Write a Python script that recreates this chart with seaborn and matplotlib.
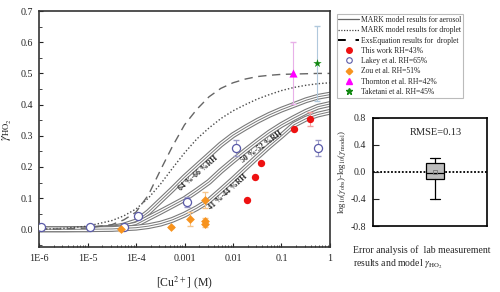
import numpy as np
import pandas as pd
import matplotlib
matplotlib.use("Agg")
import matplotlib.pyplot as plt
import matplotlib.patheffects as pe
from matplotlib.lines import Line2D
import seaborn as sns

sns.set_theme(style="ticks")
plt.rcParams['font.family'] = ['Liberation Serif', 'DejaVu Serif']
plt.rcParams['mathtext.fontset'] = 'stix'

# grille de concentration (quart de décade) pour les courbes de modèle
cu_grid = [1e-6, 3.2e-6, 1e-5, 3.2e-5, 5.6e-5, 1e-4, 1.8e-4, 3.2e-4, 5.6e-4, 1e-3, 1.8e-3,
           3.2e-3, 5.6e-3, 1e-2, 1.8e-2, 3.2e-2, 5.6e-2, 0.1, 0.18, 0.32, 0.56, 1.0]

exs_droplet = [0.000, 0.001, 0.004, 0.015, 0.030, 0.055, 0.110, 0.190, 0.265, 0.335, 0.385,
               0.425, 0.452, 0.470, 0.482, 0.490, 0.494, 0.497, 0.498, 0.499, 0.500, 0.500]
mark_droplet = [0.000, 0.003, 0.010, 0.028, 0.043, 0.065, 0.100, 0.145, 0.195, 0.245, 0.290,
                0.325, 0.355, 0.380, 0.400, 0.418, 0.432, 0.445, 0.455, 0.462, 0.467, 0.470]
mark_rh64 = [0.000, 0.000, 0.001, 0.005, 0.012, 0.025, 0.055, 0.092, 0.128, 0.167, 0.203,
             0.238, 0.272, 0.302, 0.326, 0.348, 0.367, 0.384, 0.399, 0.414, 0.425, 0.432]
mark_rh50 = [0.000, 0.000, 0.000, 0.003, 0.007, 0.015, 0.036, 0.056, 0.076, 0.097, 0.124,
             0.152, 0.187, 0.220, 0.252, 0.282, 0.310, 0.335, 0.357, 0.377, 0.393, 0.402]
mark_rh41 = [0.000, 0.000, 0.000, 0.001, 0.003, 0.005, 0.010, 0.018, 0.030, 0.047, 0.068,
             0.092, 0.125, 0.160, 0.197, 0.233, 0.267, 0.300, 0.335, 0.355, 0.368, 0.377]

# mesures
this_x = [0.019, 0.028, 0.037, 0.18, 0.38]
this_y = [0.093, 0.169, 0.213, 0.323, 0.354]
this_err = [0.0, 0.0, 0.0, 0.0, 0.022]

lakey_x = [1.1e-6, 1.1e-5, 5.6e-5, 1.1e-4, 1.1e-3, 0.0114, 0.57]
lakey_y = [0.008, 0.006, 0.007, 0.042, 0.087, 0.261, 0.260]
lakey_err = [0.004, 0.004, 0.004, 0.004, 0.017, 0.027, 0.025]

zou_x = [5.0e-5, 5.2e-4, 1.3e-3, 2.65e-3, 2.65e-3, 2.65e-3]
zou_y = [0.001, 0.007, 0.032, 0.093, 0.025, 0.018]
zou_err = [0.006, 0.004, 0.022, 0.026, 0.010, 0.010]

thornton_x = [0.17]
thornton_y = [0.502]
thornton_err = [0.10]

taketani_x = [0.53]
taketani_y = [0.532]
taketani_err = [0.12]

# statistiques de la boîte (log10 obs - log10 modèle)
box_stats = dict(whislo=-0.40, q1=-0.10, med=-0.01, q3=0.14, whishi=0.20, mean=0.0, fliers=[])
rmse_text = "RMSE=0.13"

curves = pd.DataFrame({'cu': cu_grid, 'exs': exs_droplet, 'drop': mark_droplet,
                       'rh64': mark_rh64, 'rh50': mark_rh50, 'rh41': mark_rh41})

fig = plt.figure(figsize=(5, 2.92), dpi=100)
ax = fig.add_axes([0.078, 0.154, 0.582, 0.808])

band_fx = [pe.Stroke(linewidth=4.2, foreground='#7a7a7a'),
           pe.Stroke(linewidth=2.6, foreground='white'), pe.Normal()]
for col in ['rh64', 'rh50', 'rh41']:
    sns.lineplot(data=curves, x='cu', y=col, ax=ax, color='#7a7a7a', lw=0.7,
                 estimator=None, sort=False, path_effects=band_fx)
sns.lineplot(data=curves, x='cu', y='drop', ax=ax, color='#4a4a4a', lw=1.0,
             linestyle=(0, (1, 1.5)), estimator=None, sort=False)
sns.lineplot(data=curves, x='cu', y='exs', ax=ax, color='#666666', lw=1.0,
             linestyle=(0, (6, 4)), estimator=None, sort=False)

# barres d'erreur
ax.errorbar(this_x, this_y, yerr=this_err, fmt='none', ecolor='#f2a0a0', elinewidth=0.8, capsize=2)
ax.errorbar(lakey_x, lakey_y, yerr=lakey_err, fmt='none', ecolor='#9b9bc8', elinewidth=0.8, capsize=2)
ax.errorbar(zou_x, zou_y, yerr=zou_err, fmt='none', ecolor='#f5c48a', elinewidth=0.8, capsize=2)
ax.errorbar(thornton_x, thornton_y, yerr=thornton_err, fmt='none', ecolor='#e8b0e8', elinewidth=0.8, capsize=2)
ax.errorbar(taketani_x, taketani_y, yerr=taketani_err, fmt='none', ecolor='#b0c8dc', elinewidth=0.8, capsize=2)

sns.scatterplot(x=this_x, y=this_y, ax=ax, marker='o', color='#ee1111', s=28, linewidth=0, zorder=5)
sns.scatterplot(x=lakey_x, y=lakey_y, ax=ax, marker='o', facecolor='white', edgecolor='#5a5aa8',
                s=34, linewidth=0.9, zorder=5)
sns.scatterplot(x=zou_x, y=zou_y, ax=ax, marker='D', color='#f7931e', s=20, linewidth=0, zorder=5)
sns.scatterplot(x=thornton_x, y=thornton_y, ax=ax, marker='^', color='#ff00ff', s=34, linewidth=0, zorder=5)
sns.scatterplot(x=taketani_x, y=taketani_y, ax=ax, marker='*', color='#118811', s=40, linewidth=0, zorder=5)

ax.text(1.9e-3, 0.180, "64 %-66 %RH", rotation=41, fontsize=5.6, fontweight='bold',
        ha='center', va='center', rotation_mode='anchor')
ax.text(0.039, 0.263, "50 %-52 %RH", rotation=36, fontsize=5.6, fontweight='bold',
        ha='center', va='center', rotation_mode='anchor')
ax.text(7.9e-3, 0.118, "41 %-44 %RH", rotation=42, fontsize=5.6, fontweight='bold',
        ha='center', va='center', rotation_mode='anchor')

ax.set_xscale('log')
ax.set_xlim(1e-6, 1)
ax.set_ylim(-0.057, 0.7)
ax.set_xticks([1e-6, 1e-5, 1e-4, 1e-3, 1e-2, 1e-1, 1])
ax.set_xticklabels(["1E-6", "1E-5", "1E-4", "0.001", "0.01", "0.1", "1"])
ax.set_yticks(np.arange(0, 0.71, 0.1))
ax.set_yticklabels([f"{v:.1f}" for v in np.arange(0, 0.71, 0.1)])
ax.set_yticks(np.arange(-0.05, 0.7, 0.1), minor=True)
ax.tick_params(axis='both', which='major', direction='in', length=3, width=0.8,
               labelsize=7.2, colors='#222222')
ax.tick_params(axis='x', which='major', pad=5)
ax.tick_params(axis='y', which='major', pad=4)
ax.tick_params(axis='both', which='minor', direction='in', length=1.8, width=0.6)
for sp in ax.spines.values():
    sp.set_linewidth(1.2)
    sp.set_color('#333333')
ax.set_xlabel("[Cu$^{2+}$] (M)", fontsize=8.5, labelpad=8)
ax.set_ylabel(r"$\gamma_{\mathrm{HO_2}}$", fontsize=9, labelpad=5)

handles = [
    Line2D([], [], color='#666666', lw=0.9),
    Line2D([], [], color='#444444', lw=0.9, linestyle=(0, (1, 1.2))),
    Line2D([], [], color='black', lw=1.4, linestyle=(0, (4, 5))),
    Line2D([], [], marker='o', color='#ee1111', linestyle='none', markersize=4),
    Line2D([], [], marker='o', markerfacecolor='none', markeredgecolor='#5a5aa8',
           linestyle='none', markersize=4, markeredgewidth=0.8),
    Line2D([], [], marker='D', color='#f7931e', linestyle='none', markersize=3.3),
    Line2D([], [], marker='^', color='#ff00ff', linestyle='none', markersize=4),
    Line2D([], [], marker='*', color='#118811', linestyle='none', markersize=4.5),
]
labels = ["MARK model results for aerosol", "MARK model results for droplet",
          "ExsEquation results for  droplet", "This work RH=43%", "Lakey et al. RH=65%",
          "Zou et al. RH=51%", "Thornton et al. RH=42%", "Taketani et al. RH=45%"]
leg = fig.legend(handles, labels, loc='upper left', bbox_to_anchor=(0.673, 0.952),
                 fontsize=5.5, frameon=True, fancybox=False, edgecolor='#aaaaaa',
                 handlelength=2.7, handletextpad=0.3, labelspacing=0.3, borderpad=0.25,
                 borderaxespad=0)
leg.get_frame().set_linewidth(0.8)

# encart : analyse d'erreur
ax2 = fig.add_axes([0.746, 0.226, 0.228, 0.370])
ax2.bxp([box_stats], positions=[0], widths=0.32, showmeans=True, patch_artist=True,
        capwidths=0.18, showfliers=False,
        boxprops=dict(facecolor='#bdbdbd', edgecolor='black', linewidth=0.9),
        medianprops=dict(color='black', linewidth=0.9),
        whiskerprops=dict(color='black', linewidth=0.9),
        capprops=dict(color='black', linewidth=0.9),
        meanprops=dict(marker='s', markerfacecolor='none', markeredgecolor='#777777',
                       markersize=2.5, markeredgewidth=0.6))
ax2.axhline(0, color='black', lw=1.3, linestyle=(0, (1, 1)), zorder=0)
ax2.set_xlim(-1.088, 0.912)
ax2.set_ylim(-0.8, 0.8)
ax2.set_xticks([])
ax2.set_yticks([-0.8, -0.4, 0.0, 0.4, 0.8])
ax2.set_yticklabels(["-0.8", "-0.4", "0.0", "0.4", "0.8"])
ax2.tick_params(axis='y', direction='in', length=4, width=0.8, labelsize=7, pad=5)
for sp in ax2.spines.values():
    sp.set_linewidth(1.2)
    sp.set_color('black')
ax2.set_ylabel(r"log$_{10}$($\gamma_{\mathrm{obs}}$)-log$_{10}$($\gamma_{\mathrm{model}}$)",
               fontsize=6.3, labelpad=2)
ax2.text(0.55, 0.87, rmse_text, transform=ax2.transAxes, fontsize=7.5, ha='center', va='center')

fig.text(0.706, 1 - 250 / 292, "Error analysis of  lab measurement", fontsize=7, va='center')
fig.text(0.706, 1 - 264 / 292, r"results and model $\gamma_{\mathrm{HO_2}}$", fontsize=7, va='center')

fig.savefig("out.png", dpi=100)
